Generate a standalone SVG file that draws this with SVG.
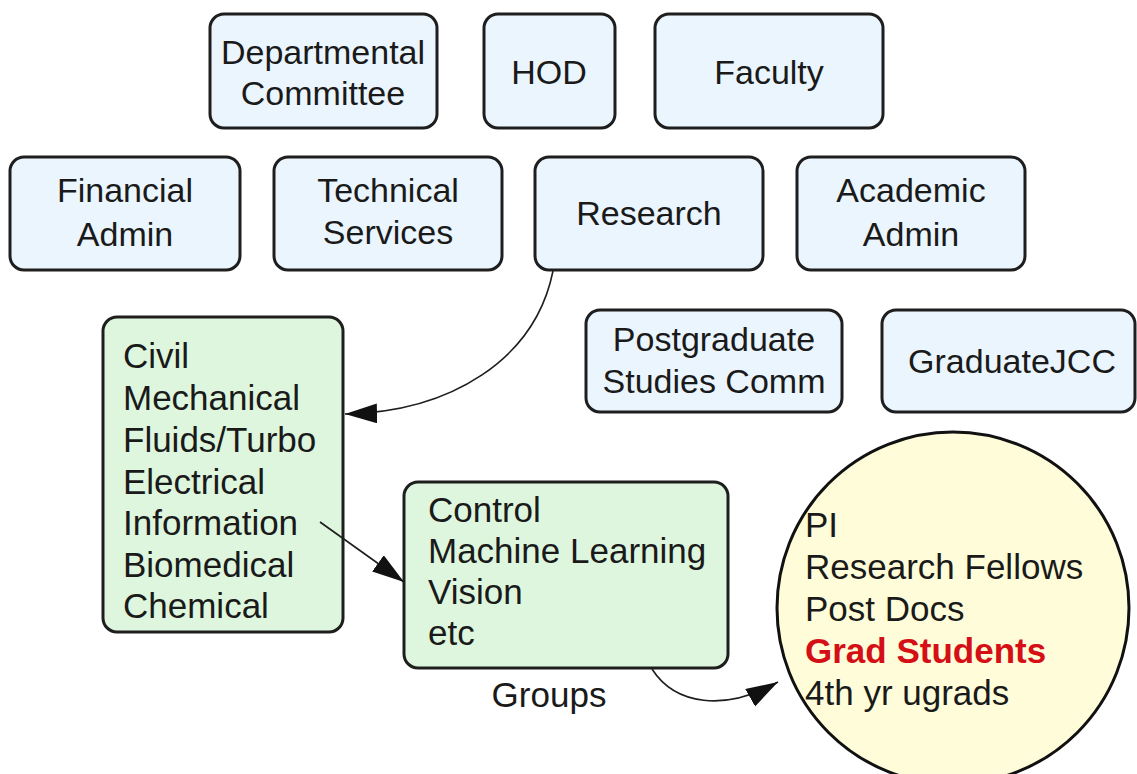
<svg xmlns="http://www.w3.org/2000/svg" width="1137" height="774" viewBox="0 0 1137 774">
<style>
text{font-family:"Liberation Sans",Arial,sans-serif;font-size:34px;fill:#1a1a1a}
.c{text-anchor:middle}
.blue{fill:#eaf5fe;stroke:#1e1e1e;stroke-width:3}
.green{fill:#ddf6dd;stroke:#1e1e1e;stroke-width:3}
.circ{fill:#fffdd9;stroke:#111;stroke-width:3}
.big{font-size:35px}
.red{fill:#d40f16;font-weight:bold}
.conn{fill:none;stroke:#1e1e1e;stroke-width:1.6}
</style>
<defs>
<marker id="arr" markerUnits="userSpaceOnUse" markerWidth="34" markerHeight="22" refX="32" refY="10" orient="auto">
<path d="M0,0 L32,10 L0,20 Z" fill="#111"/>
</marker>
</defs>
<rect width="1137" height="774" fill="#fff"/>
<g id="dept-committee"><rect class="blue" x="210" y="14" width="227" height="114" rx="14"/><text class="c" x="323" y="64">Departmental</text><text class="c" x="323" y="105">Committee</text></g>
<g id="hod"><rect class="blue" x="484" y="14" width="131" height="114" rx="14"/><text class="c" x="549" y="84">HOD</text></g>
<g id="faculty"><rect class="blue" x="655" y="14" width="228" height="114" rx="14"/><text class="c" x="769" y="84">Faculty</text></g>
<g id="financial-admin"><rect class="blue" x="10" y="157" width="230" height="113" rx="14"/><text class="c" x="125" y="202">Financial</text><text class="c" x="125" y="246">Admin</text></g>
<g id="technical-services"><rect class="blue" x="274" y="157" width="228" height="113" rx="14"/><text class="c" x="388" y="202">Technical</text><text class="c" x="388" y="244">Services</text></g>
<g id="research"><rect class="blue" x="535" y="157" width="228" height="113" rx="14"/><text class="c" x="649" y="225">Research</text></g>
<g id="academic-admin"><rect class="blue" x="797" y="157" width="228" height="113" rx="14"/><text class="c" x="911" y="202">Academic</text><text class="c" x="911" y="246">Admin</text></g>
<g id="pg-studies-comm"><rect class="blue" x="586" y="310" width="256" height="102" rx="14"/><text class="c" x="714" y="351">Postgraduate</text><text class="c" x="714" y="393">Studies Comm</text></g>
<g id="graduate-jcc"><rect class="blue" x="882" y="310" width="253" height="102" rx="14"/><text class="c" x="1012" y="373">GraduateJCC</text></g>
<g id="departments"><rect class="green" x="103" y="317" width="240" height="315" rx="14"/>
<text class="big" x="123" y="368">Civil</text><text class="big" x="123" y="410">Mechanical</text><text class="big" x="123" y="452">Fluids/Turbo</text><text class="big" x="123" y="494">Electrical</text><text class="big" x="123" y="535">Information</text><text class="big" x="123" y="577">Biomedical</text><text class="big" x="123" y="618">Chemical</text></g>
<g id="groups"><rect class="green" x="404" y="482" width="324" height="186" rx="14"/>
<text class="big" x="428" y="522">Control</text><text class="big" x="428" y="563">Machine Learning</text><text class="big" x="428" y="604">Vision</text><text class="big" x="428" y="645">etc</text></g>
<g id="groups-label"><text class="big c" x="549" y="707">Groups</text></g>
<g id="people"><circle class="circ" cx="953" cy="608" r="176"/>
<text class="big" x="805" y="537">PI</text><text class="big" x="805" y="579">Research Fellows</text><text class="big" x="805" y="621">Post Docs</text><text class="big red" x="805" y="663">Grad Students</text><text class="big" x="805" y="705">4th yr ugrads</text></g>
<g id="connectors">
<path class="conn" d="M553 271 C535 360 450 412 345 414" marker-end="url(#arr)"/>
<path class="conn" d="M320 522 L404 582" marker-end="url(#arr)"/>
<path class="conn" d="M652 669 C675 705 725 712 778 682" marker-end="url(#arr)"/>
</g>
</svg>
